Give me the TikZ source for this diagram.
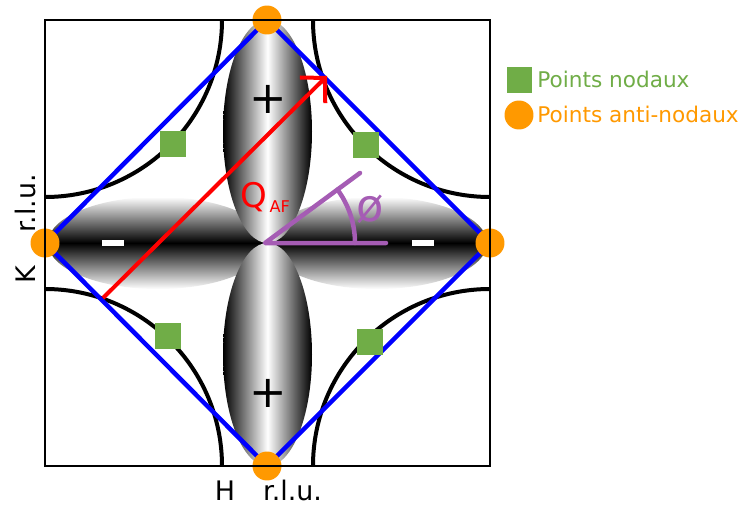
\documentclass[tikz,border=0pt]{standalone}
\usepackage{fontspec}
\setmainfont{DejaVu Sans}
\usetikzlibrary{arrows.meta,fadings}
\definecolor{nodgreen}{RGB}{112,173,71}
\definecolor{antiorange}{RGB}{255,153,0}
\definecolor{anglepurple}{RGB}{165,92,180}
\pgfdeclarehorizontalshading{lobefadeLsh}{100bp}{color(0bp)=(black); color(22bp)=(white); color(86bp)=(white); color(100bp)=(black)}
\pgfdeclarefading{lobefadeL}{\pgfuseshading{lobefadeLsh}}
\pgfdeclarehorizontalshading{lobefadeRsh}{100bp}{color(0bp)=(black); color(14bp)=(white); color(78bp)=(white); color(100bp)=(black)}
\pgfdeclarefading{lobefadeR}{\pgfuseshading{lobefadeRsh}}
\begin{document}
\begin{tikzpicture}[x=0.02cm,y=-0.02cm,
  lobeH/.style={top color=white, bottom color=white, middle color=black},
  lobeV/.style={left color=black, right color=black, middle color=white},
  fermi/.style={line width=0.08cm, black},
  frame/.style={line width=0.04cm, black},
  bz/.style={line width=0.09cm, blue, line join=miter},
  nodal/.style={rectangle, fill=nodgreen, minimum size=0.52cm, inner sep=0pt},
  antinodal/.style={circle, fill=antiorange, minimum size=0.58cm, inner sep=0pt},
  qarrow/.style={line width=0.08cm, red, -{Straight Barb[length=0.35cm, width=0.72cm]}},
  angleline/.style={line width=0.09cm, anglepurple, line cap=round, line join=round},
  signbar/.style={rectangle, fill=white, minimum width=0.46cm, minimum height=0.12cm, inner sep=0pt},
  plussign/.style={inner sep=0pt, font=\fontsize{25.5pt}{26pt}\selectfont},
  axislabel/.style={inner sep=0pt, font=\fontsize{15.3pt}{16pt}\selectfont},
  legendtext/.style={inner sep=0pt, anchor=base west, font=\fontsize{12.3pt}{13pt}\selectfont}]
\useasboundingbox (0,0) rectangle (745,507);
\fill[white] (0,0) rectangle (745,507);
% corners and vertices
\coordinate (cTL) at (45,20);
\coordinate (cTR) at (490,20);
\coordinate (cBL) at (45,466);
\coordinate (cBR) at (490,466);
\coordinate (vT) at (267,20);
\coordinate (vR) at (490,243);
\coordinate (vB) at (267,466);
\coordinate (vL) at (45,243);
% lobes
\shade[lobeH, path fading=lobefadeL] (158,243) ellipse [x radius=110, y radius=46];
\shade[lobeH, path fading=lobefadeR] (377,243) ellipse [x radius=110, y radius=46];
\shade[lobeV] (267.5,131.5) ellipse [x radius=44.5, y radius=111.5];
\shade[lobeV] (267.5,354.5) ellipse [x radius=44.5, y radius=111.5];
% Fermi surface arcs
\begin{scope}
\clip (cTL) rectangle (cBR);
\foreach \c in {cTL,cTR,cBL,cBR} \draw[fermi] (\c) circle [radius=177];
\end{scope}
% Brillouin zone
\draw[bz] (vT) -- (vR) -- (vB) -- (vL) -- cycle;
% nodal points
\node[nodal] (nTL) at (173,144) {};
\node[nodal] (nTR) at (366,145) {};
\node[nodal] (nBL) at (168,336) {};
\node[nodal] (nBR) at (370,342) {};
% antinodal points
\node[antinodal] (aT) at (vT) {};
\node[antinodal] (aR) at (vR) {};
\node[antinodal] (aB) at (vB) {};
\node[antinodal] (aL) at (vL) {};
% frame
\draw[frame] (cTL) rectangle (cBR);
% signs
\node[plussign] (plusT) at (268,99) {+};
\node[plussign] (plusB) at (268,393) {+};
\node[signbar] (minusL) at (113,243) {};
\node[signbar] (minusR) at (423,243) {};
% Q_AF arrow
\coordinate (qs) at (103,298);
\coordinate (qe) at (327,76);
\draw[qarrow] (qs) -- (qe);
\node[anchor=base west, inner sep=0pt, text=red] (qaf) at (240,207) {{\fontsize{19.3pt}{20pt}\selectfont Q}\hspace{1.5pt}\raisebox{-3.4pt}{\fontsize{9.2pt}{10pt}\selectfont AF}};
% angle phi
\coordinate (pv) at (265,243);
\coordinate (ph) at (386,243);
\coordinate (pu) at (360,173);
\draw[angleline] (pu) -- (pv) -- (ph);
\draw[angleline] (pv) ++(90,0) arc [start angle=0, end angle=-36.4, radius=90];
\node[anchor=base, inner sep=0pt, text=anglepurple, font=\fontsize{25.5pt}{26pt}\selectfont] (phi) at (370,221) {ø};
% axis labels
\node[axislabel, anchor=base west] (hlab) at (214.5,500) {H\hspace{16pt}r.l.u.};
\node[axislabel, anchor=base west, rotate=90] (klab) at (35,284) {K\hspace{19pt}r.l.u.};
% legend
\node[nodal] (legsq) at (519.5,80) {};
\node[antinodal] (legci) at (519,115) {};
\node[legendtext, text=nodgreen] (legt1) at (537,88) {Points nodaux};
\node[legendtext, text=antiorange] (legt2) at (537,122) {Points anti-nodaux};
\end{tikzpicture}
\end{document}
